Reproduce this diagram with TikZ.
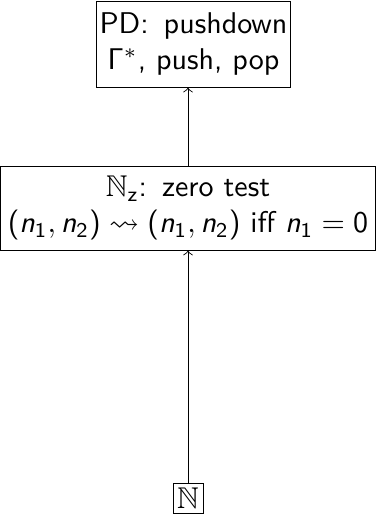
\documentclass[tikz,border=0pt]{standalone}
\usepackage{amsmath,amssymb}
\renewcommand{\familydefault}{\sfdefault}
\newcommand{\nv}{\textsf{\itshape n}}
\newcommand{\nn}[1]{\nv_{\textsf{#1}}}
\newcommand{\pr}{\textsf{(}\nn{1},\nn{2}\textsf{)}}
\begin{document}
\begin{tikzpicture}[x=1pt,y=1pt,
  box/.style={draw,line width=0.3pt,align=center,inner xsep=1pt,inner ysep=0pt,font=\sffamily},
  up/.style={->,line width=0.3pt}]
\useasboundingbox (0,0) rectangle (125.33,-171.33);
\node[box,minimum height=28.7pt] (pd) at (64.5,-14.67) {PD:\hspace{5pt}pushdown\\$\mathsf{\Gamma}^*$, push, pop};
\node[box,minimum width=125pt,minimum height=28pt] (nz) at (62.67,-69.33) {$\mathbb{N}_{\mathsf{z}}$:\hspace{5pt}zero test\\$\pr\leadsto\pr$ iff $\nn{1}\mathrel{\textsf{=}}\textsf{0}$};
\node[box,minimum width=10pt,minimum height=10pt] (n) at (62.67,-166) {$\mathbb{N}$};
\draw[up] (n) -- (nz);
\draw[up] (nz.north -| n) -- (pd.south -| n);
\end{tikzpicture}
\end{document}
